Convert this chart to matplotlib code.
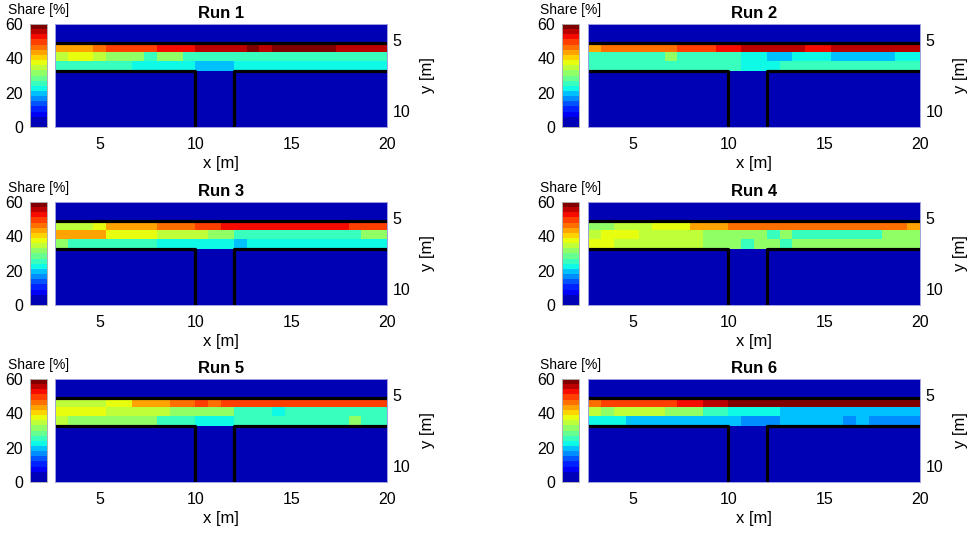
import numpy as np
import matplotlib
matplotlib.use('Agg')
import matplotlib.pyplot as plt
from matplotlib.colors import ListedColormap

plt.rcParams['font.family'] = ['Liberation Sans', 'DejaVu Sans']

# model grid: 26 cells along x, 11 cells in depth
x_edges = np.linspace(8 / 3, 20, 27)
y_edges = np.linspace(23 / 6, 67 / 6, 12)
layer_top = 31 / 6      # upper boundary of the layer
layer_bottom = 43 / 6   # lower boundary of the layer
trench_x = (10, 12)     # opening in the lower boundary

titles = ['Run 1', 'Run 2', 'Run 3', 'Run 4', 'Run 5', 'Run 6']

# share [%] in the three layer rows (top to bottom), one value per x cell
run1 = [
    [43, 43, 43, 46, 49, 49, 49, 49, 52, 52, 52, 55, 55, 55, 55, 58, 55, 58, 58, 58, 58, 58, 55, 55, 55, 55],
    [35, 37, 37, 35, 32, 32, 32, 25, 32, 32, 25, 25, 25, 25, 25, 25, 25, 25, 25, 25, 25, 25, 25, 25, 25, 25],
    [25, 25, 25, 25, 25, 25, 23, 23, 23, 23, 23, 20, 20, 20, 23, 23, 23, 23, 23, 23, 23, 23, 23, 23, 23, 23],
]
run2 = [
    [43, 46, 46, 46, 46, 46, 46, 49, 49, 49, 52, 52, 55, 55, 55, 55, 55, 52, 52, 55, 55, 55, 55, 55, 55, 55],
    [25, 25, 25, 25, 25, 25, 32, 25, 25, 25, 25, 25, 23, 23, 20, 20, 23, 23, 23, 20, 20, 20, 20, 20, 23, 23],
    [25, 25, 25, 25, 25, 25, 25, 25, 25, 25, 25, 25, 23, 23, 23, 25, 25, 25, 25, 25, 25, 25, 25, 25, 25, 25],
]
run3 = [
    [35, 35, 35, 37, 43, 43, 43, 43, 46, 46, 46, 49, 49, 52, 52, 52, 52, 52, 52, 52, 52, 52, 52, 49, 49, 49],
    [43, 43, 43, 43, 37, 37, 37, 37, 35, 35, 35, 35, 32, 32, 25, 25, 25, 25, 25, 25, 25, 25, 25, 25, 32, 32],
    [32, 25, 25, 25, 25, 25, 25, 25, 23, 23, 23, 23, 23, 23, 20, 23, 23, 23, 23, 23, 23, 23, 23, 23, 23, 23],
]
run4 = [
    [32, 32, 35, 35, 35, 37, 37, 37, 43, 43, 43, 46, 46, 46, 46, 46, 46, 46, 46, 46, 46, 46, 46, 46, 46, 43],
    [35, 37, 37, 37, 35, 35, 35, 35, 35, 32, 32, 32, 32, 32, 25, 32, 25, 25, 25, 25, 25, 25, 25, 32, 32, 32],
    [37, 37, 35, 35, 35, 35, 35, 35, 35, 32, 32, 32, 25, 32, 32, 25, 32, 32, 32, 32, 32, 32, 32, 32, 32, 32],
]
run5 = [
    [35, 35, 35, 35, 37, 37, 43, 43, 43, 46, 46, 49, 46, 49, 49, 49, 49, 49, 49, 49, 49, 49, 49, 49, 49, 49],
    [37, 37, 37, 37, 35, 35, 35, 35, 35, 32, 32, 32, 32, 32, 25, 25, 25, 23, 25, 25, 25, 25, 25, 25, 25, 25],
    [35, 32, 32, 32, 32, 32, 32, 32, 25, 25, 25, 23, 23, 23, 25, 25, 25, 25, 25, 25, 25, 25, 25, 32, 25, 25],
]
run6 = [
    [46, 49, 49, 49, 49, 49, 49, 52, 52, 55, 55, 58, 58, 58, 58, 58, 58, 58, 58, 58, 58, 58, 58, 58, 58, 58],
    [35, 32, 35, 35, 35, 35, 32, 32, 32, 25, 25, 23, 23, 23, 23, 20, 20, 20, 20, 20, 20, 20, 20, 20, 20, 20],
    [23, 23, 23, 20, 20, 20, 20, 20, 20, 20, 20, 20, 17, 17, 17, 20, 20, 20, 20, 20, 17, 20, 17, 17, 17, 17],
]
runs = [run1, run2, run3, run4, run5, run6]

# 20-step jet, lowest step a bit lighter like the original figure
jet_colors = plt.get_cmap('jet')(np.linspace(0, 1, 20))
jet_colors[0] = (0, 0, 0.71, 1)
cmap = ListedColormap(jet_colors)

fig = plt.figure(figsize=(9.7, 5.33), dpi=100)

heat_left = [0.0567, 0.6062]
cb_left = [0.0309, 0.5794]
row_bottom = [0.7617, 0.4278, 0.0957]
heat_w, cb_w, row_h = 0.3423, 0.0175, 0.1932

for i, run in enumerate(runs):
    r, c = divmod(i, 2)
    ax = fig.add_axes([heat_left[c], row_bottom[r], heat_w, row_h])
    cax = fig.add_axes([cb_left[c], row_bottom[r], cb_w, row_h])

    share = np.zeros((len(y_edges) - 1, len(x_edges) - 1))
    share[2:5] = np.array(run)

    mesh = ax.pcolormesh(x_edges, y_edges, share, cmap=cmap, vmin=0, vmax=60)

    # layer boundaries with the opening between x=10 and x=12
    ax.plot([x_edges[0], x_edges[-1]], [layer_top, layer_top], color='black', lw=2.3)
    ax.plot([x_edges[0], trench_x[0], trench_x[0]], [layer_bottom, layer_bottom, y_edges[-1]],
            color='black', lw=2.3, solid_capstyle='butt')
    ax.plot([trench_x[1], trench_x[1], x_edges[-1]], [y_edges[-1], layer_bottom, layer_bottom],
            color='black', lw=2.3, solid_capstyle='butt')

    ax.set_xlim(x_edges[0], x_edges[-1])
    ax.set_ylim(y_edges[-1], y_edges[0])
    ax.set_xticks([5, 10, 15, 20])
    ax.set_yticks([5, 10])
    ax.yaxis.tick_right()
    ax.yaxis.set_label_position('right')
    ax.tick_params(length=0, labelsize=11.5)
    ax.tick_params(axis='x', pad=7)
    ax.tick_params(axis='y', pad=4)
    ax.set_xlabel('x [m]', fontsize=12, labelpad=3)
    ax.set_ylabel('y [m]', fontsize=12, labelpad=7)
    ax.set_title(titles[i], fontsize=12, fontweight='bold', pad=4)
    for s in ax.spines.values():
        s.set_color('#a0a0e0')
        s.set_linewidth(0.7)

    cb = fig.colorbar(mesh, cax=cax, ticks=[0, 20, 40, 60])
    cax.yaxis.set_ticks_position('left')
    cax.tick_params(length=0, labelsize=11.5, pad=5)
    cb.outline.set_edgecolor('#b0b0b0')
    cb.outline.set_linewidth(0.7)
    cax.set_title('Share [%]', fontsize=10, pad=7)

fig.savefig('out.png', dpi=100)
